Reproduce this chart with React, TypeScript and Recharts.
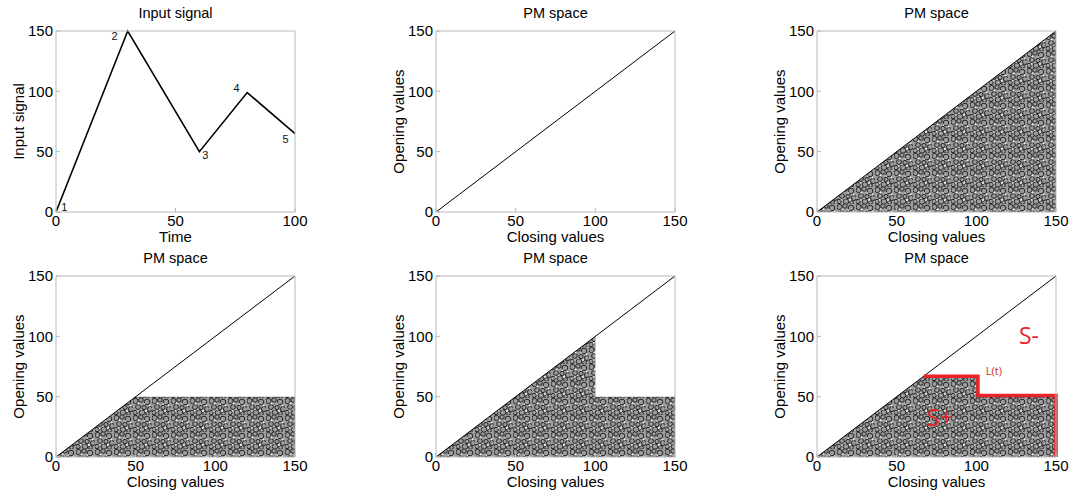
import React from 'react';
import { ComposedChart, Line, Area, Scatter, XAxis, YAxis } from 'recharts';

// input signal (panel 1)
const inputTime = [0, 30, 60, 80, 100];
const inputValue = [0, 150, 50, 99, 65];
const turnLabels = ['1', '2', '3', '4', '5'];
const turnLabelX = [3.5, 24.5, 62.5, 75.5, 96];
const turnLabelY = [3, 145, 46, 102, 60];

// PM space: diagonal alpha = beta
const diagonalX = [0, 150];
const diagonalY = [0, 150];

// upper boundary of the switched-up region for each state
const fullX = [0, 150];
const fullY = [0, 150];
const afterTroughX = [0, 50, 150];
const afterTroughY = [0, 50, 50];
const afterPeakX = [0, 100, 100, 150];
const afterPeakY = [0, 100, 50, 50];
const finalX = [0, 67, 101, 101, 150];
const finalY = [0, 67, 67, 51, 51];

// interface L(t)
const interfaceX = [67, 101, 101, 150, 150];
const interfaceY = [67, 67, 51, 51, 0];

const regionNotes = ['S-', 'S+', 'L(t)'];
const regionNoteX = [133, 77, 111];
const regionNoteY = [99, 31, 70];

const xTicksTime = [0, 50, 100];
const xTicksPM = [0, 50, 100, 150];
const yTicks = [0, 50, 100, 150];

const zip = (xs: number[], ys: number[]) => xs.map((x, i) => ({ x, y: ys[i] }));

const inputData = zip(inputTime, inputValue);
const turnData = turnLabels.map((label, i) => ({ x: turnLabelX[i], y: turnLabelY[i], label }));
const diagonalData = zip(diagonalX, diagonalY);
const noteData = regionNotes.map((label, i) => ({ x: regionNoteX[i], y: regionNoteY[i], label }));

const FONT = '"Liberation Sans", Arial, sans-serif';
const FRAME = '#b8b8b8';
const RED = '#e8232a';
const tickStyle = { fontSize: 15, fill: '#000', fontFamily: FONT };

const TurnLabel = (props: any) => (
  <text x={props.cx} y={props.cy} fontSize={11} fontFamily={FONT} fill="#111" textAnchor="middle" dominantBaseline="middle">
    {props.payload.label}
  </text>
);

const NoteLabel = (props: any) => {
  const small = props.payload.label === 'L(t)';
  return (
    <text
      x={props.cx}
      y={props.cy}
      fontSize={small ? 11 : 23}
      fontFamily='"Open Sans", "Liberation Sans", sans-serif'
      fill={small ? '#c8312f' : RED}
      textAnchor="middle"
      dominantBaseline="middle"
    >
      {props.payload.label}
    </text>
  );
};

const titleContent = (title: string) => (props: any) => {
  const vb = props.viewBox || {};
  return (
    <text x={vb.x + vb.width / 2} y={vb.y - 12} textAnchor="middle" fontSize={14.5} fontFamily={FONT} fill="#000">
      {title}
    </text>
  );
};

interface PanelProps {
  left: number;
  top: number;
  title: string;
  xMax: number;
  xTicks: number[];
  xLabel: string;
  yLabel: string;
  children?: React.ReactNode;
}

const Panel = ({ left, top, title, xMax, xTicks, xLabel, yLabel, children }: PanelProps) => (
  <div style={{ position: 'absolute', left, top }}>
    <ComposedChart width={310} height={245} margin={{ top: 30, right: 14, bottom: 0, left: 0 }}>
      <XAxis
        type="number"
        dataKey="x"
        domain={[0, xMax]}
        ticks={xTicks}
        height={33}
        stroke={FRAME}
        tickSize={-4}
        tickMargin={7}
        tick={tickStyle}
        label={{
          value: xLabel,
          position: 'insideBottom',
          offset: 3,
          fill: '#000',
          style: { fontSize: 15, fontFamily: FONT, fontWeight: 400 },
        }}
      />
      <YAxis
        type="number"
        dataKey="y"
        domain={[0, 150]}
        ticks={yTicks}
        width={56}
        stroke={FRAME}
        tickSize={-4}
        tickMargin={7}
        tick={tickStyle}
        label={{
          value: yLabel,
          angle: -90,
          position: 'insideLeft',
          offset: 19,
          fill: '#000',
          style: { textAnchor: 'middle', fontSize: 15, fontFamily: FONT, fontWeight: 400 },
        }}
      />
      <XAxis
        xAxisId="t"
        orientation="top"
        type="number"
        domain={[0, xMax]}
        ticks={xTicks}
        height={1}
        stroke={FRAME}
        tickSize={-4}
        tick={false}
        label={{ value: title, content: titleContent(title) }}
      />
      <YAxis
        yAxisId="r"
        orientation="right"
        type="number"
        domain={[0, 150]}
        ticks={yTicks}
        width={1}
        stroke={FRAME}
        tickSize={-4}
        tick={false}
      />
      {children}
    </ComposedChart>
  </div>
);

const region = (xs: number[], ys: number[]) => (
  <Area
    data={zip(xs, ys)}
    dataKey="y"
    type="linear"
    baseValue={0}
    stroke="none"
    fill="url(#hysterons)"
    fillOpacity={1}
    isAnimationActive={false}
  />
);

const diagonal = (
  <Line data={diagonalData} dataKey="y" type="linear" stroke="#000" strokeWidth={1} dot={false} isAnimationActive={false} />
);

export default function App() {
  return (
    <div style={{ position: 'absolute', left: 0, top: 0, width: 1073, height: 493, background: '#fff' }}>
      <svg width={0} height={0} style={{ position: 'absolute' }}>
        <defs>
          <pattern id="hysterons" width={19} height={17} patternUnits="userSpaceOnUse">
            <rect width={19} height={17} fill="#9c9c9c" />
            <g fill="none" stroke="#151515" strokeWidth={0.9}>
              <circle cx={2.5} cy={3} r={2.6} />
              <circle cx={8} cy={2} r={2.2} />
              <circle cx={14} cy={4} r={2.8} />
              <circle cx={5} cy={9} r={2.4} />
              <circle cx={11} cy={9.5} r={2.1} />
              <circle cx={17} cy={11} r={2.5} />
              <circle cx={2} cy={14.5} r={2.2} />
              <circle cx={9} cy={14.5} r={2.7} />
              <circle cx={14.5} cy={15.5} r={1.9} />
            </g>
            <g fill="#f2f2f2">
              <circle cx={5.5} cy={5.5} r={1} />
              <circle cx={11.5} cy={6} r={0.8} />
              <circle cx={16.5} cy={7.5} r={0.9} />
              <circle cx={8} cy={11.5} r={0.7} />
              <circle cx={13} cy={13} r={1} />
              <circle cx={4.5} cy={13} r={0.8} />
            </g>
          </pattern>
        </defs>
      </svg>

      <Panel left={0} top={0} title="Input signal" xMax={100} xTicks={xTicksTime} xLabel="Time" yLabel="Input signal">
        <Line data={inputData} dataKey="y" type="linear" stroke="#000" strokeWidth={1.6} dot={false} isAnimationActive={false} />
        <Scatter data={turnData} dataKey="y" shape={TurnLabel} isAnimationActive={false} />
      </Panel>

      <Panel left={380} top={0} title="PM space" xMax={150} xTicks={xTicksPM} xLabel="Closing values" yLabel="Opening values">
        {diagonal}
      </Panel>

      <Panel left={761} top={0} title="PM space" xMax={150} xTicks={xTicksPM} xLabel="Closing values" yLabel="Opening values">
        {region(fullX, fullY)}
        {diagonal}
      </Panel>

      <Panel left={0} top={245} title="PM space" xMax={150} xTicks={xTicksPM} xLabel="Closing values" yLabel="Opening values">
        {region(afterTroughX, afterTroughY)}
        {diagonal}
      </Panel>

      <Panel left={380} top={245} title="PM space" xMax={150} xTicks={xTicksPM} xLabel="Closing values" yLabel="Opening values">
        {region(afterPeakX, afterPeakY)}
        {diagonal}
      </Panel>

      <Panel left={761} top={245} title="PM space" xMax={150} xTicks={xTicksPM} xLabel="Closing values" yLabel="Opening values">
        {region(finalX, finalY)}
        {diagonal}
        <Line data={zip(interfaceX, interfaceY)} dataKey="y" type="linear" stroke={RED} strokeWidth={3.5} dot={false} isAnimationActive={false} />
        <Scatter data={noteData} dataKey="y" shape={NoteLabel} isAnimationActive={false} />
      </Panel>
    </div>
  );
}
